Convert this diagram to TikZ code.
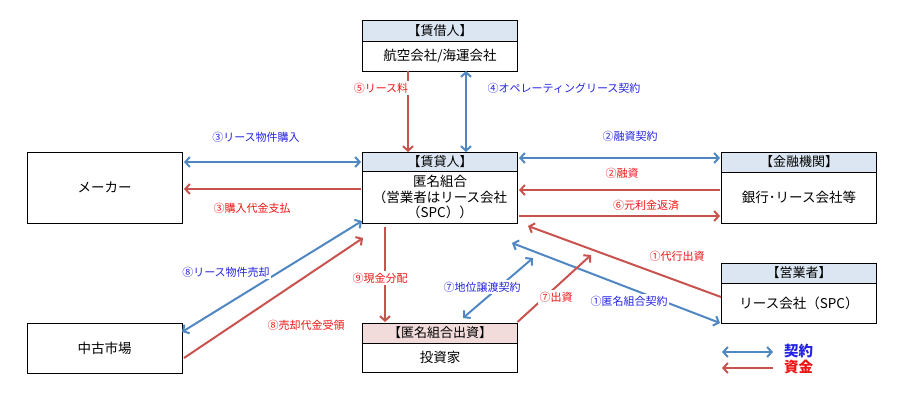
\documentclass[tikz,border=0pt]{standalone}
\usepackage{fontspec}
\setmainfont{Noto Sans CJK JP}
\usetikzlibrary{arrows.meta,calc}
\definecolor{ablue}{RGB}{79,135,195}
\definecolor{ared}{RGB}{200,82,78}
\definecolor{tblue}{RGB}{35,35,225}
\definecolor{tred}{RGB}{240,20,20}
\definecolor{hblue}{RGB}{220,230,242}
\definecolor{hpink}{RGB}{242,220,219}
\begin{document}
\begin{tikzpicture}[x=1pt,y=-1pt,
 body/.style={draw=black,line width=0.9pt,minimum width=155pt,inner sep=0pt,outer sep=0pt,
   font=\fontsize{13.5}{15.5}\selectfont,align=center,anchor=north},
 hdr/.style={body,fill=hblue,font=\fontsize{13}{14}\selectfont},
 tipb/.tip={Straight Barb[length=4.5pt,width=10pt]},
 con/.style={draw=ablue,line width=2pt,tipb-tipb},
 fund/.style={draw=ared,line width=2pt,-tipb},
 lb/.style={text=tblue,font=\fontsize{11}{12}\selectfont,inner sep=1.5pt},
 lr/.style={text=tred,font=\fontsize{11}{12}\selectfont,inner sep=1.5pt},
 bg/.style={fill=white}]
\useasboundingbox (0,0) rectangle (914,409);

% boxes
\node[hdr,minimum height=21pt] (lesseeH) at (440,20) {【賃借人】};
\node[body,minimum height=30pt] (lessee) at (lesseeH.south) {航空会社/海運会社};
\node[hdr,minimum height=19pt] (lessorH) at (440,152) {【賃貸人】};
\node[body,minimum height=52pt] (lessor) at (lessorH.south) {匿名組合\\（営業者はリース会社\\（SPC））};
\node[body,minimum height=71pt] (maker) at (104.5,152) {メーカー};
\node[hdr,minimum height=20pt] (bankH) at (799,152) {【金融機関】};
\node[body,minimum height=51pt] (bank) at (bankH.south) {銀行･リース会社等};
\node[hdr,minimum height=20pt] (operH) at (799,263) {【営業者】};
\node[body,minimum height=40pt] (oper) at (operH.south) {リース会社（SPC）};
\node[body,minimum height=50pt] (market) at (104.5,323) {中古市場};
\node[hdr,fill=hpink,minimum height=20pt] (invH) at (440,323) {【匿名組合出資】};
\node[body,minimum height=29pt] (inv) at (invH.south) {投資家};

% connectors
\draw[fund] ($(lessee.south west)+(45.5,0)$) -- ($(lessorH.north west)+(45.5,0)$);
\draw[con] ($(lessee.south west)+(103.5,0)$) -- ($(lessorH.north west)+(103.5,0)$);
\draw[con] ($(maker.north east)+(2,10)$) -- ($(lessorH.north west)+(-1.5,10)$);
\draw[fund] ($(lessorH.north west)+(-1.5,37)$) -- ($(maker.north east)+(2,37)$);
\draw[con] ($(lessorH.north east)+(1.5,6)$) -- ($(bankH.north west)+(-1.5,6)$);
\draw[fund] ($(bankH.north west)+(-1.5,38)$) -- ($(lessorH.north east)+(1.5,38)$);
\draw[fund] ($(lessorH.north east)+(1.5,64)$) -- ($(bankH.north west)+(-1.5,64)$);
\draw[fund] ($(operH.north west)+(-0.5,34)$) -- ($(lessor.south east)+(10.5,3)$);
\draw[con] ($(lessor.south east)+(-5.5,20)$) -- ($(oper.south west)+(-1.5,0)$);
\draw[con] ($(invH.north west)+(100.5,-5)$) -- ($(lessor.south east)+(15.5,35)$);
\draw[fund] ($(invH.north east)+(0,-1)$) -- ($(lessor.south east)+(73.5,32)$);
\draw[con] ($(market.north east)+(0,9)$) -- ($(lessor.south west)+(-0.5,-2)$);
\draw[fund] ($(market.north east)+(2,35)$) -- ($(lessor.south west)+(0.5,15)$);
\draw[fund] ($(lessor.south west)+(22.5,4)$) -- ($(invH.north west)+(22.5,-1)$);

% labels
\node[lr,bg] (l5) at (381,88) {⑤リース料};
\node[lb,anchor=west] (l4) at (486,88) {④オペレーティングリース契約};
\node[lb] (l3a) at (256,137) {③リース物件購入};
\node[lr] (l3b) at (252,208) {③購入代金支払};
\node[lb] (l2a) at (630,136) {②融資契約};
\node[lr] (l2b) at (622,173) {②融資};
\node[lr] (l6) at (646,205) {⑥元利金返済};
\node[lr,bg] (l1a) at (677,256) {①代行出資};
\node[lb,bg] (l1b) at (629,301) {①匿名組合契約};
\node[lb,bg] (l7a) at (482,287) {⑦地位譲渡契約};
\node[lr,bg] (l7b) at (556,297) {⑦出資};
\node[lb,bg] (l8a) at (226,272) {⑧リース物件売却};
\node[lr] (l8b) at (306,325) {⑧売却代金受領};
\node[lr,bg] (l9) at (380,278) {⑨現金分配};

% legend
\coordinate (lg1a) at (722,352);
\coordinate (lg1b) at (773,352);
\coordinate (lg2a) at (773,368);
\coordinate (lg2b) at (722,368);
\draw[con] (lg1a) -- (lg1b);
\draw[fund] (lg2a) -- (lg2b);
\node[anchor=west,text=tblue,font=\fontsize{14.5}{15}\selectfont\bfseries,inner sep=0pt] (lgk) at (784,351) {契約};
\node[anchor=west,text=tred,font=\fontsize{14.5}{15}\selectfont\bfseries,inner sep=0pt] (lgs) at (784,367) {資金};
\end{tikzpicture}
\end{document}
